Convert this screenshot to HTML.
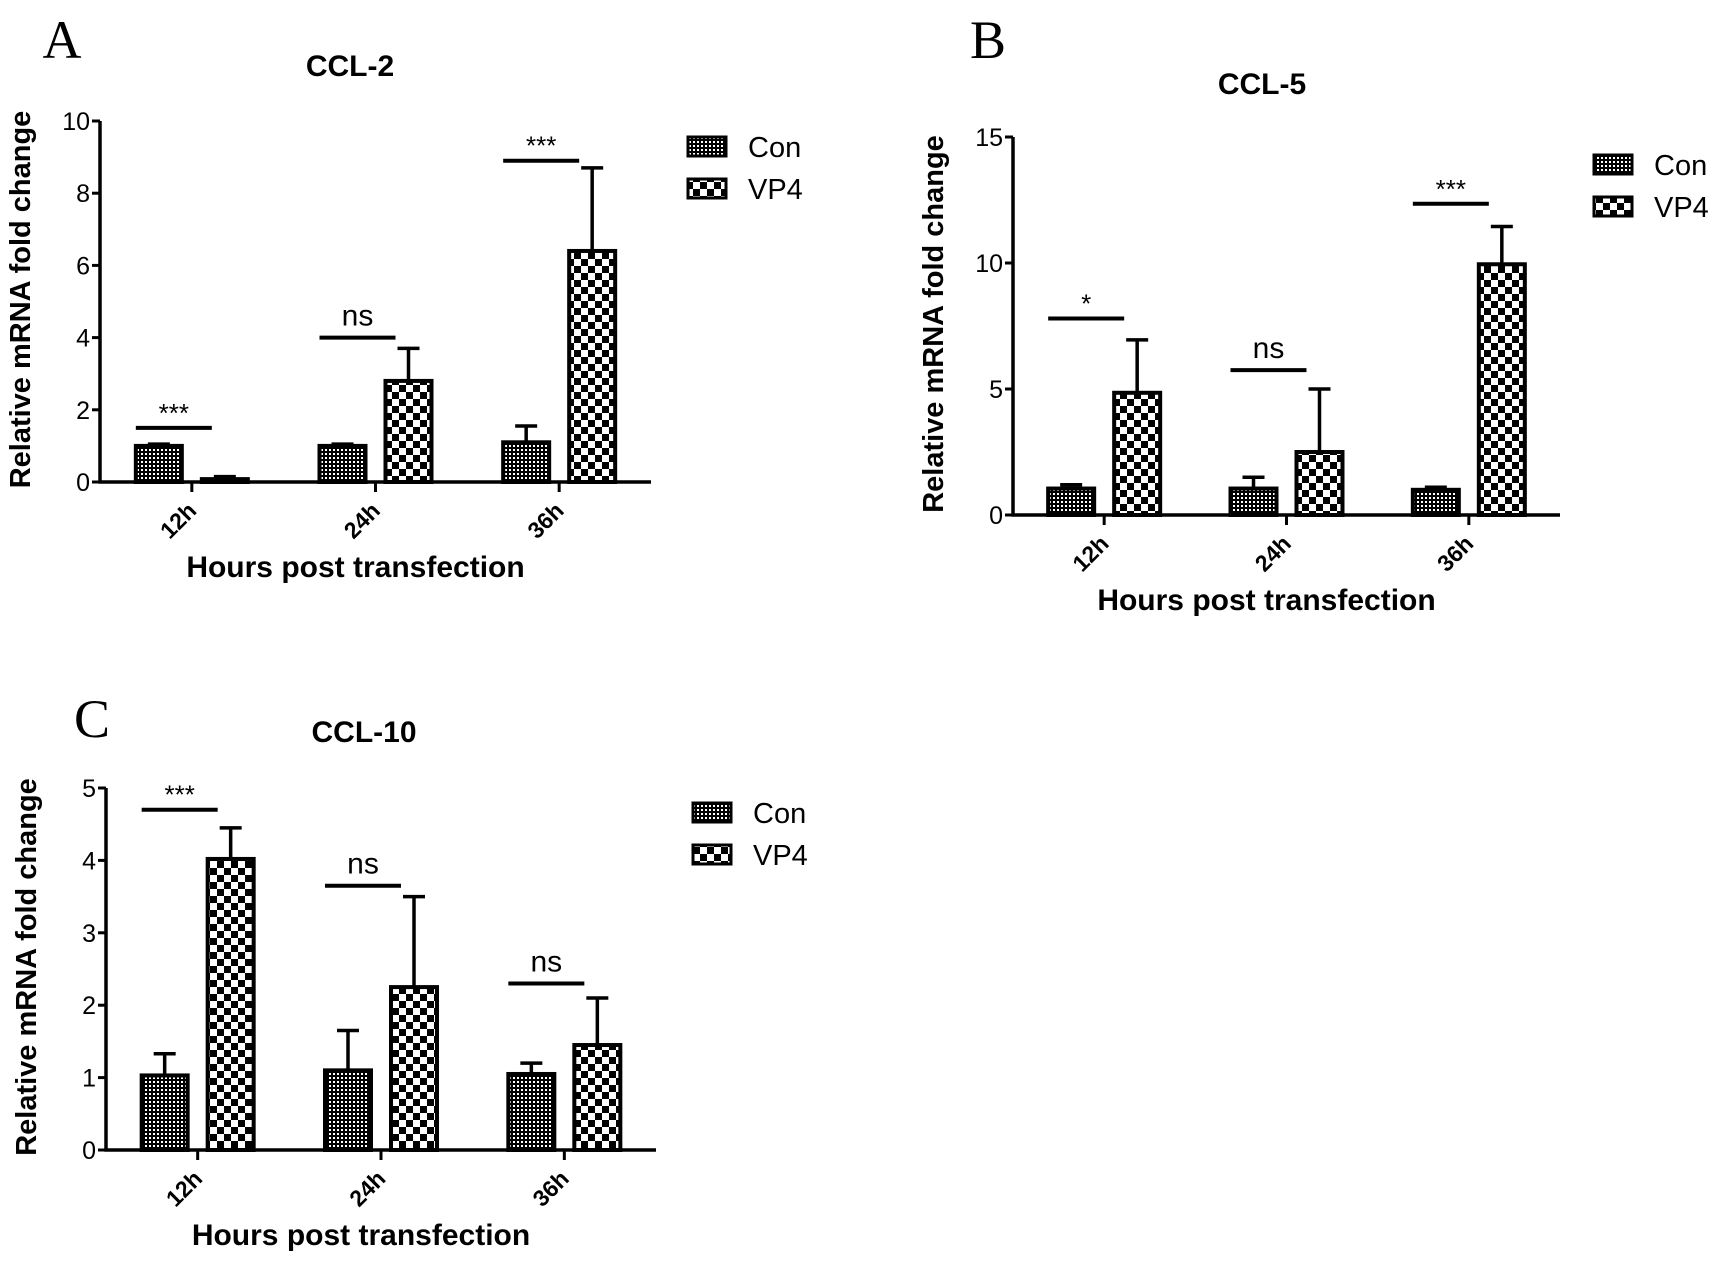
<!DOCTYPE html>
<html><head><meta charset="utf-8"><style>
html,body{margin:0;padding:0;background:#fff;}
svg{display:block;}
text{font-family:"Liberation Sans",Arial,sans-serif;}
text.serif{font-family:"Liberation Serif",serif;}
</style></head><body>
<svg id="fig" width="1713" height="1271" viewBox="0 0 1713 1271" xmlns="http://www.w3.org/2000/svg">
<defs>
<pattern id="pCon" width="4" height="4" patternUnits="userSpaceOnUse"><rect width="4" height="4" fill="#000"/><rect x="1" y="1" width="2" height="2" fill="#fff"/></pattern>
<pattern id="pVP4" width="14" height="14" patternUnits="userSpaceOnUse"><rect width="14" height="14" fill="#fff"/><rect width="7" height="7" fill="#000"/><rect x="7" y="7" width="7" height="7" fill="#000"/></pattern>
</defs>
<rect width="1713" height="1271" fill="#fff"/>
</svg>
<script>
const groups = ["12h","24h","36h"];
const conA = [1.0,1.0,1.1];   const conAErr = [0.05,0.05,0.45];
const vpA  = [0.08,2.8,6.4];  const vpAErr  = [0.07,0.9,2.3];
const sigA = ["***","ns","***"]; const sigAY = [1.5,4.0,8.9];
const ticksA = [0,2,4,6,8,10];
const conB = [1.05,1.05,1.0]; const conBErr = [0.15,0.45,0.1];
const vpB  = [4.85,2.5,9.95]; const vpBErr  = [2.1,2.5,1.5];
const sigB = ["*","ns","***"]; const sigBY = [7.8,5.75,12.35];
const ticksB = [0,5,10,15];
const conC = [1.03,1.1,1.05]; const conCErr = [0.3,0.55,0.15];
const vpC  = [4.02,2.25,1.45]; const vpCErr = [0.43,1.25,0.65];
const sigC = ["***","ns","ns"]; const sigCY = [4.7,3.65,2.3];
const ticksC = [0,1,2,3,4,5];

const svg = document.getElementById('fig');
const NS = 'http://www.w3.org/2000/svg';
function mk(tag, attrs, parent){const e=document.createElementNS(NS,tag);for(const k in attrs)e.setAttribute(k,attrs[k]);(parent||svg).appendChild(e);return e;}

function panel(p){
  const g = mk('g',{});
  
  
  const ymax = p.ticks[p.ticks.length-1];
  const y = v => p.y0 - (v/ymax)*(p.y0-p.ytop);
  const band = (p.xend-p.x0)/groups.length;
  const gx = i => p.x0 + band*(i+0.5);
  const L = mk('text',{x:p.lx,y:p.ly,'font-size':54,'text-anchor':'middle','class':'serif'},g);
  L.textContent=p.letter;
  
  
  const T = mk('text',{x:p.tx,y:p.ty,'font-size':30,'font-weight':'bold','text-anchor':'middle'},g);
  T.textContent=p.title;
  
  
  const w=46, off=33;
  groups.forEach((c,i)=>{
    [[p.con[i],p.conErr[i],-off,'url(#pCon)','bar-con-'+c],[p.vp[i],p.vpErr[i],off,'url(#pVP4)','bar-vp4-'+c]].forEach(([v,e,o,f,nm])=>{
      const cx=gx(i)+o;
      const r=mk('rect',{x:cx-w/2,y:y(v),width:w,height:p.y0-y(v),fill:f,stroke:'#000','stroke-width':4},g);
      
      
      const eb=mk('path',{d:`M${cx} ${y(v)} V${y(v+e)} M${cx-11} ${y(v+e)} H${cx+11}`,stroke:'#000','stroke-width':3.5,fill:'none'},g);
      
      
    });
    const sx1=gx(i)-off-w/2, sx2=gx(i)+off-w/2+10;
    const sl=mk('line',{x1:sx1,x2:sx2,y1:y(p.sigY[i]),y2:y(p.sigY[i]),stroke:'#000','stroke-width':4},g);
    
    
    const st=mk('text',{x:(sx1+sx2)/2,y:y(p.sigY[i])-(p.sig[i]==='ns'?12:6),'font-size':p.sig[i]==='ns'?30:26,'text-anchor':'middle'},g);
    st.textContent=p.sig[i];
    
    
    mk('line',{x1:gx(i),x2:gx(i),y1:p.y0,y2:p.y0+10,stroke:'#000','stroke-width':3},g);
    const tl=mk('text',{x:0,y:0,'font-size':23,'font-weight':'bold','text-anchor':'end',transform:`translate(${gx(i)+6},${p.y0+30}) rotate(-45)`},g);
    tl.textContent=c;
    
    
  });
  const ax=mk('path',{d:`M${p.x0} ${p.ytop} V${p.y0} H${p.xend}`,stroke:'#000','stroke-width':3.5,fill:'none'},g);
  
  
  p.ticks.forEach(t=>{
    mk('line',{x1:p.x0-8,x2:p.x0,y1:y(t),y2:y(t),stroke:'#000','stroke-width':3},g);
    const tt=mk('text',{x:p.x0-10,y:y(t)+9,'font-size':25,'text-anchor':'end'},g);
    tt.textContent=t;
    
    
  });
  const yl=mk('text',{x:0,y:0,'font-size':29,'font-weight':'bold','text-anchor':'middle',transform:`translate(${p.x0-70},${(p.y0+p.ytop)/2-2}) rotate(-90)`},g);
  yl.textContent='Relative mRNA fold change';
  
  
  const xl=mk('text',{x:(p.x0+p.xend)/2-20,y:p.y0+95,'font-size':30,'font-weight':'bold','text-anchor':'middle'},g);
  xl.textContent='Hours post transfection';
  
  
  [['Con','url(#pCon)'],['VP4','url(#pVP4)']].forEach(([n,f],k)=>{
    const ly=p.legY+k*42;
    const lr=mk('rect',{x:p.legX,y:ly,width:38,height:19,fill:f,stroke:'#000','stroke-width':3},g);
    
    
    const lt=mk('text',{x:p.legX+60,y:ly+20,'font-size':29},g);
    lt.textContent=n;
    
    
  });
}
panel({name:'panel-a-ccl2',letter:'A',lx:62,ly:58,title:'CCL-2',tx:350,ty:76,x0:100,xend:651,y0:482,ytop:121,ticks:ticksA,con:conA,conErr:conAErr,vp:vpA,vpErr:vpAErr,sig:sigA,sigY:sigAY,legX:688,legY:137});
panel({name:'panel-b-ccl5',letter:'B',lx:988,ly:58,title:'CCL-5',tx:1262,ty:94,x0:1013,xend:1560,y0:515,ytop:137,ticks:ticksB,con:conB,conErr:conBErr,vp:vpB,vpErr:vpBErr,sig:sigB,sigY:sigBY,legX:1594,legY:155});
panel({name:'panel-c-ccl10',letter:'C',lx:92,ly:737,title:'CCL-10',tx:364,ty:742,x0:106,xend:656,y0:1150,ytop:788,ticks:ticksC,con:conC,conErr:conCErr,vp:vpC,vpErr:vpCErr,sig:sigC,sigY:sigCY,legX:693,legY:803});
</script>
</body></html>
